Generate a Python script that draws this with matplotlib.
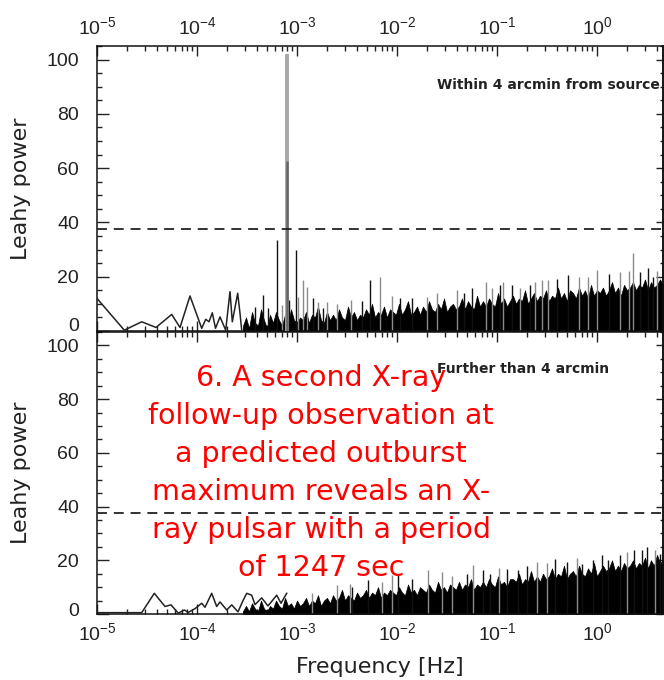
import numpy as np
import matplotlib
matplotlib.use('Agg')
import matplotlib.pyplot as plt
from matplotlib.ticker import LogLocator, MultipleLocator, NullFormatter
from matplotlib.transforms import ScaledTranslation

plt.rcParams['font.family'] = ['Liberation Sans', 'DejaVu Sans']
plt.rcParams['mathtext.fontset'] = 'custom'
plt.rcParams['mathtext.rm'] = 'Liberation Sans'
plt.rcParams['mathtext.it'] = 'Liberation Sans:italic'
plt.rcParams['mathtext.bf'] = 'Liberation Sans:bold'

# ---------------- data ----------------
pulsar_period_s = 1247.0
pulsar_power_total = 101.9
pulsar_power_inner = 62.5
detection_level = 37.6

# top panel: sparse low-frequency bins (log10 Hz, Leahy power)
top_low_logf = [-5.0, -4.727, -4.553, -4.41, -4.253, -4.17, -4.07, -3.953, -3.913,
                -3.88, -3.847, -3.815, -3.77, -3.713, -3.67, -3.647, -3.593, -3.57, -3.553]
top_low_power = [12.0, 0.3, 3.4, 1.3, 6.1, 1.3, 12.9, 1.0, 4.3,
                 3.4, 6.7, 1.0, 5.2, 0.3, 14.5, 3.4, 13.9, 6.5, 0.3]

# dense part of the spectra: rough top of the black noise band (log10 Hz)
dense_logf = [-3.54, -3.51, -3.48, -3.45, -3.42, -3.39, -3.36, -3.33, -3.30, -3.27,
              -3.24, -3.21, -3.18, -3.15, -3.12, -3.09, -3.06, -3.03, -3.00, -2.97,
              -2.94, -2.91, -2.88, -2.85, -2.82, -2.79, -2.76, -2.73, -2.70, -2.67,
              -2.64, -2.61, -2.58, -2.55, -2.52, -2.49, -2.46, -2.43, -2.40, -2.37,
              -2.34, -2.31, -2.28, -2.25, -2.22, -2.19, -2.16, -2.13, -2.10, -2.07,
              -2.04, -2.01, -1.98, -1.95, -1.92, -1.89, -1.86, -1.83, -1.80, -1.77,
              -1.74, -1.71, -1.68, -1.65, -1.62, -1.59, -1.56, -1.53, -1.50, -1.47,
              -1.44, -1.41, -1.38, -1.35, -1.32, -1.29, -1.26, -1.23, -1.20, -1.17,
              -1.14, -1.11, -1.08, -1.05, -1.02, -0.99, -0.96, -0.93, -0.90, -0.87,
              -0.84, -0.81, -0.78, -0.75, -0.72, -0.69, -0.66, -0.63, -0.60, -0.57,
              -0.54, -0.51, -0.48, -0.45, -0.42, -0.39, -0.36, -0.33, -0.30, -0.27,
              -0.24, -0.21, -0.18, -0.15, -0.12, -0.09, -0.06, -0.03, 0.00, 0.03,
              0.06, 0.09, 0.12, 0.15, 0.18, 0.21, 0.24, 0.27, 0.30, 0.33,
              0.36, 0.39, 0.42, 0.45, 0.48, 0.51, 0.54, 0.57, 0.60, 0.63,
              0.66]
top_dense_power = [2, 5, 1, 7, 3, 2, 8, 4, 1, 6,
                   3, 7, 4, 2, 6, 3, 8, 4, 3, 5,
                   4, 7, 3, 6, 5, 9, 4, 3, 7, 4,
                   6, 4, 8, 5, 4, 9, 5, 7, 4, 6,
                   5, 8, 6, 10, 5, 7, 6, 9, 5, 8,
                   7, 6, 10, 6, 8, 11, 6, 7, 9, 6,
                   9, 7, 11, 8, 7, 10, 8, 12, 7, 9,
                   10, 8, 9, 12, 8, 11, 9, 8, 13, 9,
                   11, 9, 12, 10, 9, 14, 10, 12, 9, 11,
                   13, 10, 12, 11, 15, 10, 12, 14, 11, 13,
                   12, 15, 11, 13, 12, 16, 12, 14, 11, 15,
                   14, 12, 16, 13, 15, 12, 17, 13, 15, 14,
                   16, 13, 15, 18, 14, 16, 13, 17, 15, 16,
                   18, 15, 17, 16, 19, 15, 18, 16, 17, 19,
                   17]
bottom_dense_power = [1, 3, 1, 4, 2, 1, 5, 2, 1, 3,
                      2, 5, 3, 2, 6, 3, 4, 2, 5, 3,
                      4, 6, 3, 5, 4, 7, 3, 5, 6, 4,
                      7, 5, 6, 9, 5, 7, 6, 5, 8, 6,
                      7, 9, 6, 8, 7, 10, 6, 8, 7, 9,
                      8, 7, 10, 8, 7, 11, 8, 9, 7, 10,
                      9, 8, 11, 9, 8, 12, 9, 10, 8, 11,
                      10, 9, 12, 9, 11, 10, 13, 9, 11, 10,
                      12, 10, 13, 11, 10, 14, 11, 12, 10, 13,
                      13, 12, 15, 11, 13, 12, 16, 12, 14, 12,
                      15, 13, 14, 17, 13, 15, 14, 18, 13, 15,
                      16, 14, 18, 15, 14, 17, 15, 19, 14, 16,
                      18, 16, 17, 20, 16, 18, 16, 19, 17, 18,
                      20, 17, 19, 18, 21, 17, 20, 18, 22, 19,
                      20]

# solid lower part of the noise band
floor_logf = [-3.54, -3.0, -2.5, -2.0, -1.5, -1.0, -0.5, 0.0, 0.66]
top_floor_power = [1.5, 3.0, 3.5, 5.0, 7.0, 8.5, 10.0, 11.5, 14.0]
bottom_floor_power = [1.0, 2.5, 4.0, 6.0, 7.5, 9.0, 11.0, 13.0, 16.0]

# individual spikes (log10 Hz, power, shade: k = black, g = gray)
top_spike_logf = [-3.42, -3.34, -3.29, -3.203, -3.15, -3.08, -3.007, -2.987, -2.937,
                  -2.903, -2.843, -2.787, -2.737, -2.697, -2.6, -2.46, -2.35, -2.27,
                  -2.17, -2.05, -1.97, -1.85, -1.703, -1.6, -1.403, -1.33, -1.253,
                  -1.11, -1.05, -0.97, -0.94, -0.85, -0.77, -0.67, -0.62, -0.553,
                  -0.487, -0.4, -0.29, -0.18, -0.087, 0.0, 0.12, 0.23, 0.32, 0.363,
                  0.43, 0.507, 0.563, 0.6]
top_spike_power = [9.0, 13.2, 8.5, 33.6, 9.5, 11.4, 29.9, 12.6, 18.8,
                   16.3, 12.0, 10.8, 8.3, 10.8, 10.0, 11.4, 11.0, 18.8,
                   20.0, 13.0, 12.1, 12.0, 12.6, 14.0, 15.1, 14.0, 15.8,
                   18.2, 16.0, 17.0, 18.2, 17.0, 15.8, 17.0, 18.0, 18.8,
                   18.8, 19.0, 20.6, 20.0, 20.0, 22.5, 21.0, 21.9, 22.0, 28.6,
                   21.9, 23.1, 20.0, 22.0]
top_spike_shade = ['k', 'k', 'k', 'k', 'g', 'k', 'k', 'g', 'g',
                   'g', 'k', 'g', 'k', 'g', 'g', 'g', 'k', 'k',
                   'g', 'g', 'k', 'k', 'g', 'g', 'g', 'k', 'k',
                   'g', 'g', 'k', 'g', 'k', 'g', 'k', 'g', 'g',
                   'g', 'k', 'k', 'g', 'g', 'g', 'k', 'g', 'g', 'g',
                   'k', 'k', 'k', 'g']

bottom_low_logf = [-5.0, -4.553, -4.427, -4.32, -4.26, -4.187, -4.127, -4.087, -4.02,
                   -3.953, -3.92, -3.853, -3.803, -3.77, -3.703, -3.653, -3.59, -3.54,
                   -3.503, -3.453, -3.42, -3.353, -3.29, -3.203, -3.16, -3.103]
bottom_low_power = [0.5, 0.5, 7.7, 2.8, 3.4, 0.3, 1.5, 0.6, 2.0,
                    4.0, 2.5, 7.7, 2.8, 4.5, 1.5, 3.4, 0.8, 5.0,
                    7.7, 7.0, 3.5, 6.0, 3.0, 7.0, 4.0, 7.7]
bottom_spike_logf = [-2.85, -2.603, -2.47, -2.45, -2.29, -2.15, -2.053, -1.987, -1.85,
                     -1.687, -1.553, -1.45, -1.3, -1.237, -1.137, -1.07, -0.98, -0.903,
                     -0.787, -0.7, -0.603, -0.5, -0.42, -0.297, -0.2, -0.153, -0.037,
                     0.05, 0.113, 0.23, 0.3, 0.37, 0.45, 0.497, 0.58, 0.63]
bottom_spike_power = [8.0, 10.8, 11.3, 10.0, 12.5, 12.0, 14.5, 15.0, 13.0,
                      16.3, 15.7, 14.0, 15.0, 18.2, 16.3, 15.0, 17.0, 16.9,
                      16.3, 18.0, 19.4, 19.0, 20.6, 19.4, 21.0, 18.8, 20.0,
                      22.0, 20.0, 21.9, 23.0, 23.7, 24.0, 24.9, 24.0, 22.5]
bottom_spike_shade = ['g', 'g', 'g', 'k', 'k', 'g', 'g', 'k', 'k',
                      'g', 'g', 'g', 'k', 'g', 'k', 'k', 'g', 'k',
                      'k', 'k', 'g', 'g', 'k', 'k', 'g', 'k', 'k',
                      'k', 'k', 'k', 'g', 'k', 'k', 'k', 'g', 'k']

panel_titles = ['Within 4 arcmin from source', 'Further than 4 arcmin']
annotation_lines = ['6. A second X-ray', 'follow-up observation at',
                    'a predicted outburst', 'maximum reveals an X-',
                    'ray pulsar with a period', 'of 1247 sec']

# ---------------- figure ----------------
W, H = 664, 680
fig = plt.figure(figsize=(W / 100, H / 100), dpi=100)
L, R = 97, 663
ax1 = fig.add_axes([L / W, 1 - 331 / H, (R - L) / W, (331 - 46) / H])
ax2 = fig.add_axes([L / W, 1 - 614 / H, (R - L) / W, (614 - 332) / H])

shade_map = {'k': '#111111', 'g': '#8a8a8a'}


def draw_panel(ax, low_logf, low_p, floor_p, dense_p, sp_logf, sp_p, sp_shade):
    ax.plot(10 ** np.array(low_logf), low_p, color='#222222', lw=1.1, zorder=3)
    ax.fill_between(10 ** np.array(floor_logf), 0, floor_p, color='black',
                    lw=0, zorder=2)
    ax.fill_between(10 ** np.array(dense_logf), 0, dense_p, color='black',
                    lw=0.5, zorder=2)
    ax.vlines(10 ** np.array(sp_logf), 0, sp_p,
              colors=[shade_map[s] for s in sp_shade], lw=1.0, zorder=2.5)
    ax.axhline(detection_level, color='#222222', lw=1.3,
               linestyle=(0, (5.5, 3.8)), zorder=4)


draw_panel(ax1, top_low_logf, top_low_power, top_floor_power, top_dense_power,
           top_spike_logf, top_spike_power, top_spike_shade)
draw_panel(ax2, bottom_low_logf, bottom_low_power, bottom_floor_power, bottom_dense_power,
           bottom_spike_logf, bottom_spike_power, bottom_spike_shade)

f_pulsar = 1.0 / pulsar_period_s
ax1.vlines(f_pulsar, 0, pulsar_power_total, color='#a8a8a8', lw=2.8, zorder=3)
ax1.vlines(f_pulsar, 0, pulsar_power_inner, color='#666666', lw=1.8, zorder=3.1)

for ax in (ax1, ax2):
    ax.set_xscale('log')
    ax.set_xlim(1e-5, 10 ** 0.66)
    ax.set_ylim(0, 105)
    ax.xaxis.set_major_locator(LogLocator(base=10, numticks=20))
    ax.xaxis.set_minor_locator(LogLocator(base=10, subs=np.arange(2, 10), numticks=20))
    ax.xaxis.set_minor_formatter(NullFormatter())
    ax.yaxis.set_major_locator(MultipleLocator(20))
    ax.yaxis.set_minor_locator(MultipleLocator(5))
    for s in ax.spines.values():
        s.set_linewidth(1.1)
        s.set_color('#111111')
    ax.tick_params(axis='x', which='both', direction='in', top=True, bottom=True,
                   labelsize=14, pad=6, colors='#222222', width=1.0)
    ax.tick_params(axis='x', which='major', length=7)
    ax.tick_params(axis='x', which='minor', length=3.5)
    ax.tick_params(axis='y', which='both', direction='in', left=True, right=False,
                   labelsize=14, pad=13, colors='#222222', width=1.0)
    ax.tick_params(axis='y', which='major', length=8.5)
    ax.tick_params(axis='y', which='minor', length=3.6)
    sec = ax.secondary_yaxis('right')
    sec.yaxis.set_major_locator(MultipleLocator(20))
    sec.yaxis.set_minor_locator(MultipleLocator(5))
    sec.tick_params(axis='y', which='both', direction='in', labelright=False,
                    colors='#222222', width=1.0)
    sec.tick_params(axis='y', which='major', length=5)
    sec.tick_params(axis='y', which='minor', length=2)
    sec.spines['right'].set_linewidth(1.1)

ax1.tick_params(axis='x', which='both', labeltop=True, labelbottom=False)
ax2.tick_params(axis='x', which='both', labeltop=False, labelbottom=True)

ax2.set_xlabel('Frequency [Hz]', fontsize=16, family='DejaVu Sans',
               color='#222222', labelpad=9)
for yc in (189, 473):
    fig.text(21 / W, 1 - yc / H, 'Leahy power', rotation=90, ha='center',
             va='center', fontsize=16, family='DejaVu Sans', color='#222222')

ax1.text((437 - L) / (R - L), 0.863, panel_titles[0], transform=ax1.transAxes,
         ha='left', va='center', fontsize=10, family='DejaVu Sans',
         fontweight='bold', color='#222222')
ax2.text((437 - L) / (R - L), 0.869, panel_titles[1], transform=ax2.transAxes,
         ha='left', va='center', fontsize=10, family='DejaVu Sans',
         fontweight='bold', color='#222222')

for i, line in enumerate(annotation_lines):
    fig.text(321 / W, 1 - (378 + 38 * i) / H, line, ha='center', va='center',
             fontsize=20.5, family='DejaVu Sans', color='#ff0000', zorder=10)

fig.canvas.draw()
for ax, dy in ((ax1, 7), (ax2, 4)):
    for t in ax.yaxis.get_major_ticks():
        if abs(t.get_loc()) < 1e-9:
            t.label1.set_transform(t.label1.get_transform() +
                                   ScaledTranslation(0, dy / 100, fig.dpi_scale_trans))

fig.savefig('out.png', dpi=100)
